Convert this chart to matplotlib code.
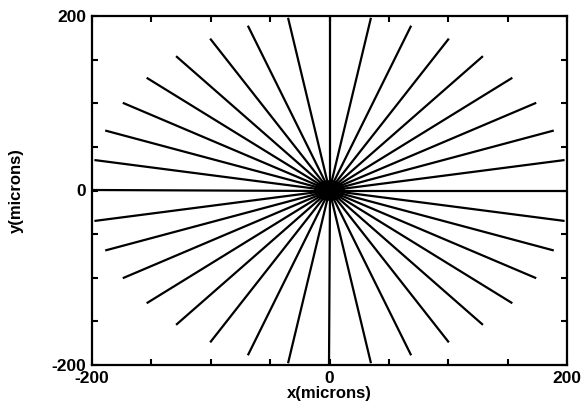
import numpy as np
import matplotlib
matplotlib.use("Agg")
import matplotlib.pyplot as plt
from matplotlib.patches import Ellipse

# radial tracks, one every 10 degrees
angles_deg = np.arange(0, 360, 10)
ray_length = 201.0
core_width = 25.0
core_height = 22.0

tick_pos = [-200, -150, -100, -50, 0, 50, 100, 150, 200]
tick_labels = ["-200", "", "", "", "0", "", "", "", "200"]

plt.rcParams['font.family'] = ['Liberation Sans', 'DejaVu Sans']
plt.rcParams['font.weight'] = 'bold'

fig = plt.figure(figsize=(5.83, 4.03), dpi=100)
ax = fig.add_axes([92/583, 1-365/403, 475/583, 349/403])

th = np.deg2rad(angles_deg)
for t in th:
    ax.plot([0, ray_length*np.cos(t)], [0, ray_length*np.sin(t)],
            color="black", lw=1.6, solid_capstyle="butt")

ax.add_patch(Ellipse((0, 0), core_width, core_height, color="black", zorder=3))

ax.set_xlim(-200, 200)
ax.set_ylim(-200, 200)
ax.set_xticks(tick_pos)
ax.set_xticklabels(tick_labels)
ax.set_yticks(tick_pos)
ax.set_yticklabels(tick_labels)
ax.tick_params(direction="in", top=True, right=True, length=4, width=1.5,
               labelsize=12.5, pad=4)
for s in ax.spines.values():
    s.set_linewidth(1.6)

ax.set_xlabel("x(microns)", fontsize=12, fontweight="bold", labelpad=0)
ax.set_ylabel("y(microns)", fontsize=12, fontweight="bold", labelpad=20)

fig.savefig("out.png", dpi=100)
